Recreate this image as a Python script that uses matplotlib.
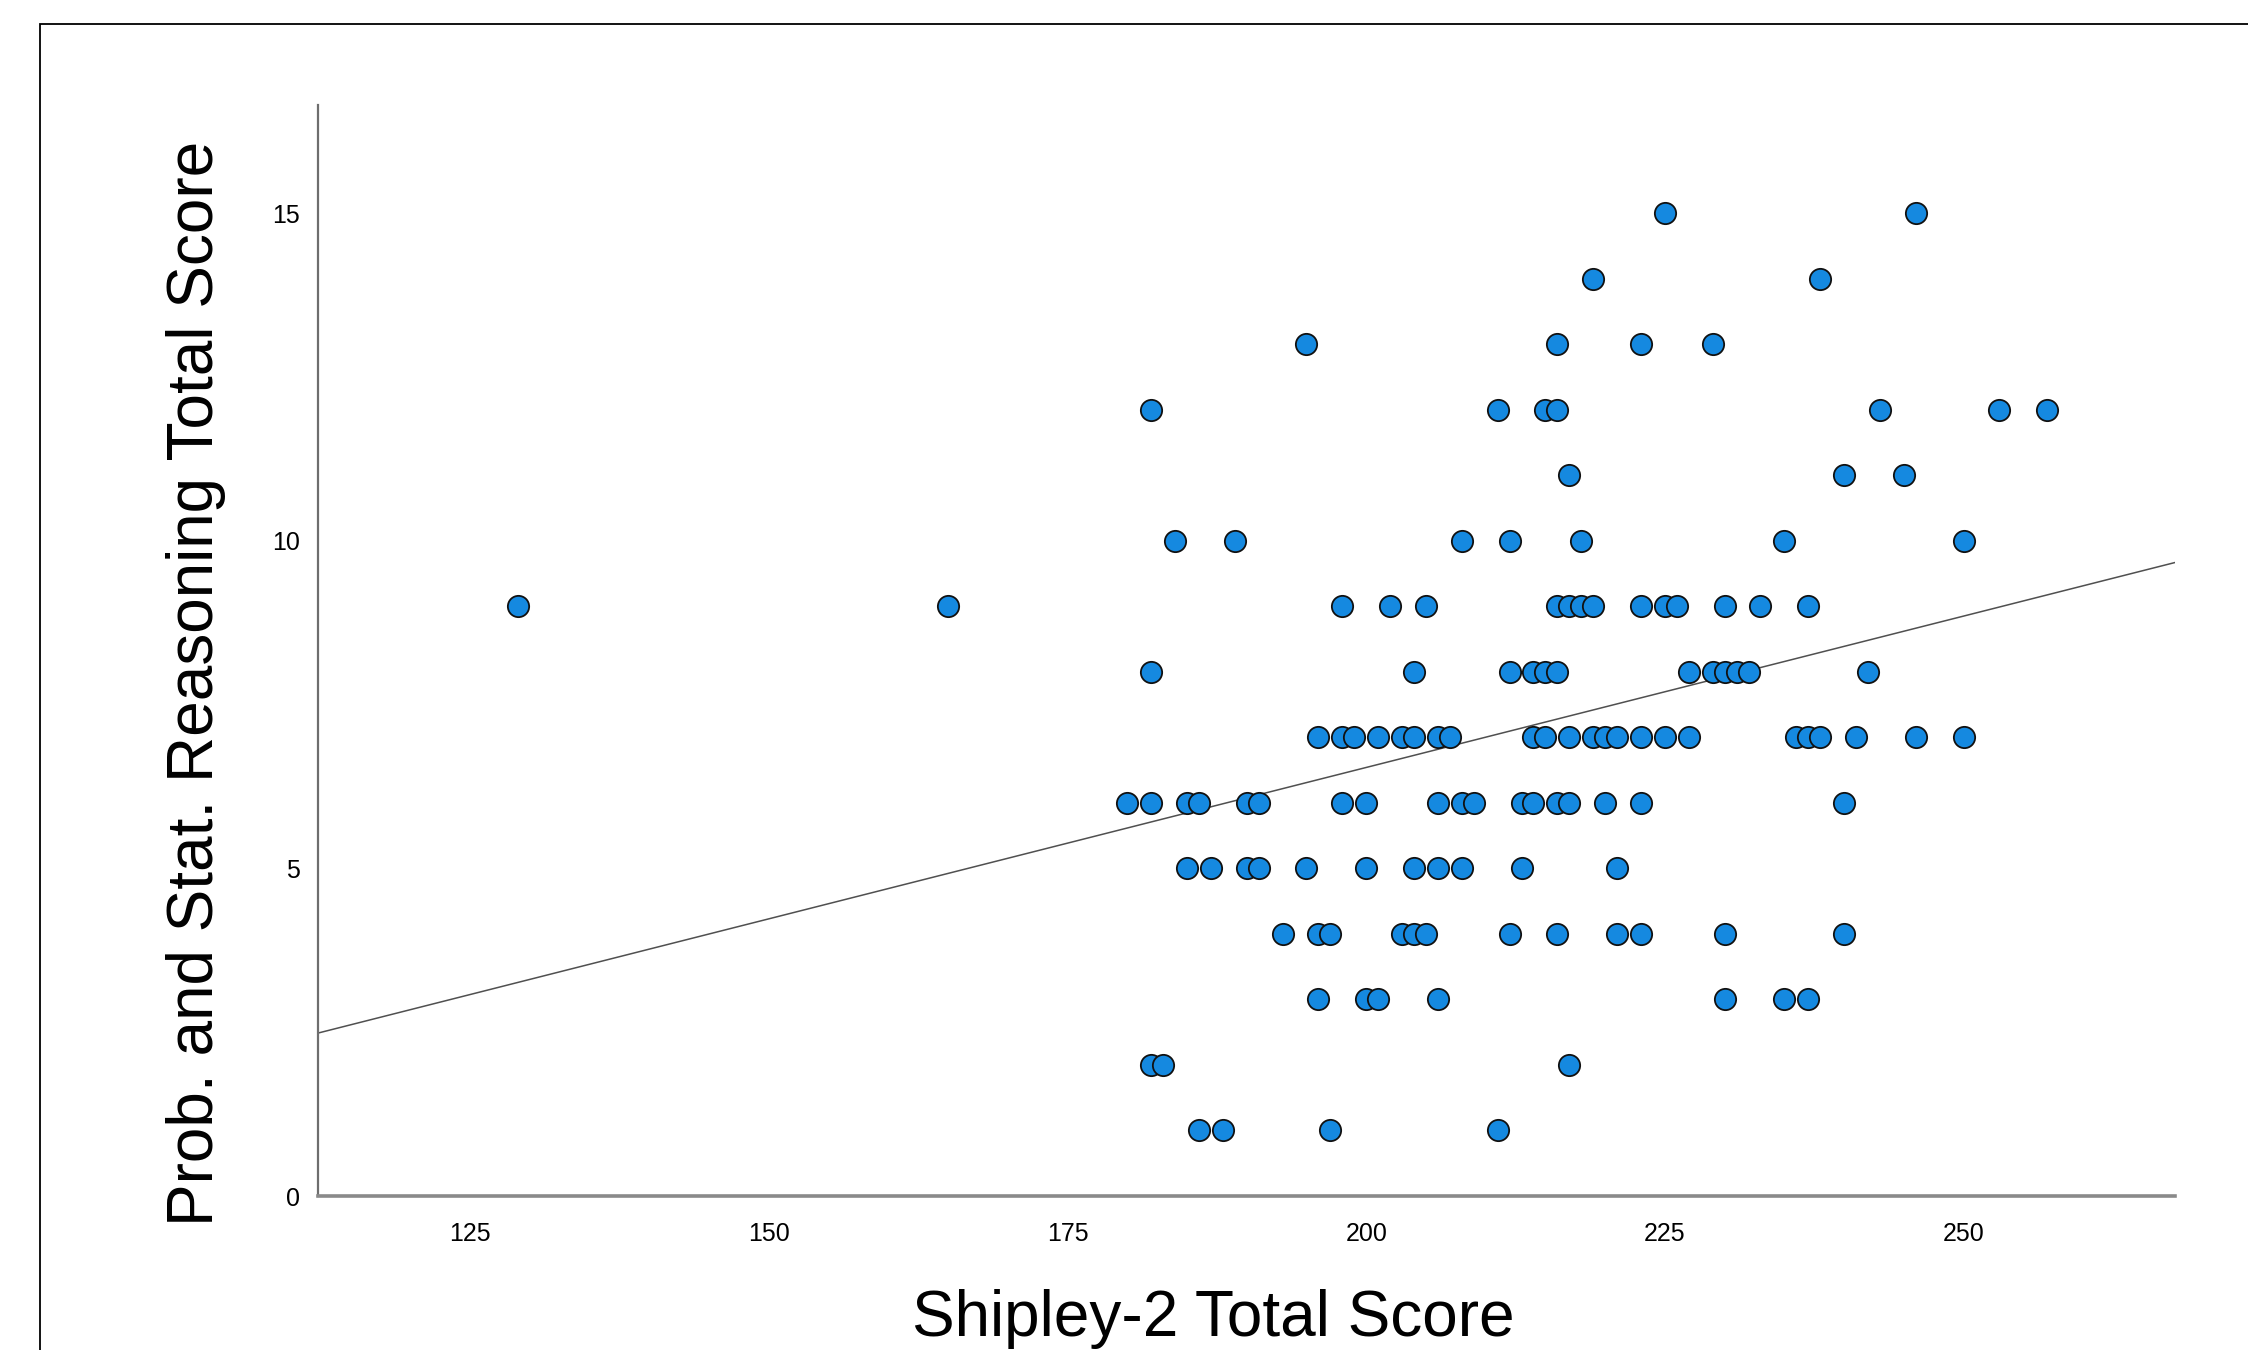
import numpy as np
import matplotlib
matplotlib.use("Agg")
import matplotlib.pyplot as plt
from matplotlib.patches import Rectangle

plt.rcParams['font.family'] = ['Liberation Sans', 'DejaVu Sans']

# Data: Shipley-2 total score (x) grouped by Prob. and Stat. Reasoning score (y)
rows = {
    15: [225, 246],
    14: [219, 238],
    13: [195, 216, 223, 229],
    12: [182, 211, 215, 216, 243, 253, 257],
    11: [217, 240, 245],
    10: [184, 189, 208, 212, 218, 235, 250],
    9:  [129, 165, 198, 202, 205, 216, 217, 218, 219, 223, 225, 226, 230, 233, 237],
    8:  [182, 204, 212, 214, 215, 216, 227, 229, 230, 231, 232, 242],
    7:  [196, 198, 199, 201, 203, 204, 206, 207, 214, 215, 217, 219, 220, 221,
         223, 225, 227, 236, 237, 238, 241, 246, 250],
    6:  [180, 182, 185, 186, 190, 191, 198, 200, 206, 208, 209, 213, 214, 216,
         217, 220, 223, 240],
    5:  [185, 187, 190, 191, 195, 200, 204, 206, 208, 213, 221],
    4:  [193, 196, 197, 203, 204, 205, 212, 216, 221, 223, 230, 240],
    3:  [196, 200, 201, 206, 230, 235, 237],
    2:  [182, 183, 217],
    1:  [186, 188, 197, 211],
}
shipley = np.array([x for yv, xs in rows.items() for x in xs], dtype=float)
prob_stat = np.array([yv for yv, xs in rows.items() for x in xs], dtype=float)

# fit line (intercept, slope)
fit_intercept = -2.70
fit_slope = 0.0462

x_ticks = [125, 150, 175, 200, 225, 250]
y_ticks = [0, 5, 10, 15]
x_label = "Shipley-2 Total Score"
y_label = "Prob. and Stat. Reasoning Total Score"

W, H = 2248, 1350
fig = plt.figure(figsize=(W / 100, H / 100), dpi=100)
fig.patch.set_facecolor('white')

# outer frame
fig.add_artist(Rectangle((40 / W, -0.05), 1.2, 1 - 24 / H + 0.05,
                         transform=fig.transFigure, fill=False,
                         edgecolor='black', linewidth=1.3))

ax = fig.add_axes([318 / W, 1 - 1196 / H, (2175 - 318) / W, (1196 - 105) / H])
ax.set_xlim(112.26, 267.7)
ax.set_ylim(0, 16.65)

ax.scatter(shipley, prob_stat, s=235, facecolor='#1589e0', edgecolor='#111111',
           linewidth=1.3, zorder=3, clip_on=False)

xl = np.array(ax.get_xlim())
ax.plot(xl, fit_intercept + fit_slope * xl, color='#505050', linewidth=1.1, zorder=2)

for s in ['top', 'right']:
    ax.spines[s].set_visible(False)
ax.spines['left'].set_color('#6e6e6e')
ax.spines['left'].set_linewidth(1.6)
ax.spines['bottom'].set_color('#8a8a8a')
ax.spines['bottom'].set_linewidth(2.6)

ax.set_xticks(x_ticks)
ax.set_yticks(y_ticks)
ax.tick_params(axis='both', length=0, labelsize=18, colors='black')
ax.tick_params(axis='x', pad=19)
ax.tick_params(axis='y', pad=13)

fig.text(1213 / W, 1 - 1319 / H, x_label, fontsize=46, ha='center', va='center')
fig.text(196 / W, 1 - 683 / H, y_label, fontsize=46, ha='center', va='center',
         rotation=90)

fig.savefig('out.png', dpi=100)
